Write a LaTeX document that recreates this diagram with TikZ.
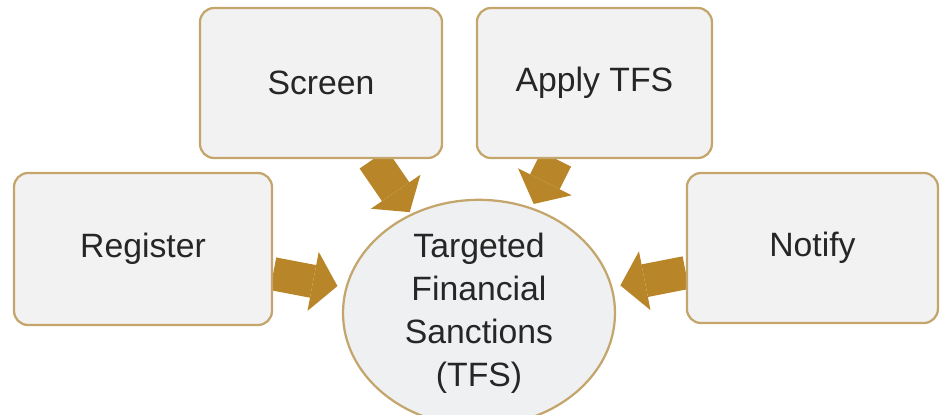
\documentclass[tikz,border=0pt]{standalone}
\usepackage{fontspec}
\setmainfont{Liberation Sans}
\usepackage{tikz}
\usetikzlibrary{shapes.geometric,arrows.meta,backgrounds}
\definecolor{boxfill}{RGB}{242,242,242}
\definecolor{hubfill}{RGB}{238,240,242}
\definecolor{boxline}{RGB}{196,166,108}
\definecolor{arrowgold}{RGB}{184,134,40}

\begin{document}
\begin{tikzpicture}[
  every node/.style={font=\fontsize{24}{30.5}\selectfont, text=black!85},
  stage/.style={draw=boxline, line width=1.6pt, fill=boxfill,
                rectangle, rounded corners=10pt, align=center},
  hub/.style={draw=boxline, line width=1.6pt, fill=hubfill,
              ellipse, minimum width=6.8cm, minimum height=4.9cm,
              inner sep=0pt, align=center},
  bigarrow/.style={draw=arrowgold, line width=0.83cm,
                   -{Triangle[length=0.62cm, width=1.5cm, line width=0pt]}, arrowgold}
]
  \useasboundingbox (0,0) rectangle (23.5,-10.35);

  \node[stage, minimum width=6.45cm, minimum height=3.8cm]  (register) at (3.575,-6.225) {Register};
  \node[stage, minimum width=6.05cm, minimum height=3.75cm] (screen)   at (8.025,-2.075) {Screen};
  \node[stage, minimum width=5.875cm, minimum height=3.75cm] (apply)   at (14.86,-2.075) {Apply TFS};
  \node[stage, minimum width=6.275cm, minimum height=3.75cm] (notify)  at (20.31,-6.2)   {Notify};
  \node[hub] (tfs) at (11.975,-7.825) {Targeted\\Financial\\Sanctions\\(TFS)};

  \begin{scope}[on background layer]
    \draw[bigarrow, shorten >=0.2cm] (register) -- (tfs);
    \draw[bigarrow, shorten >=0.05cm] (screen)  -- (tfs);
    \draw[bigarrow, shorten >=0.1cm] (apply)    -- (tfs);
    \draw[bigarrow, shorten >=0.2cm] (notify)   -- (tfs);
  \end{scope}
\end{tikzpicture}
\end{document}
